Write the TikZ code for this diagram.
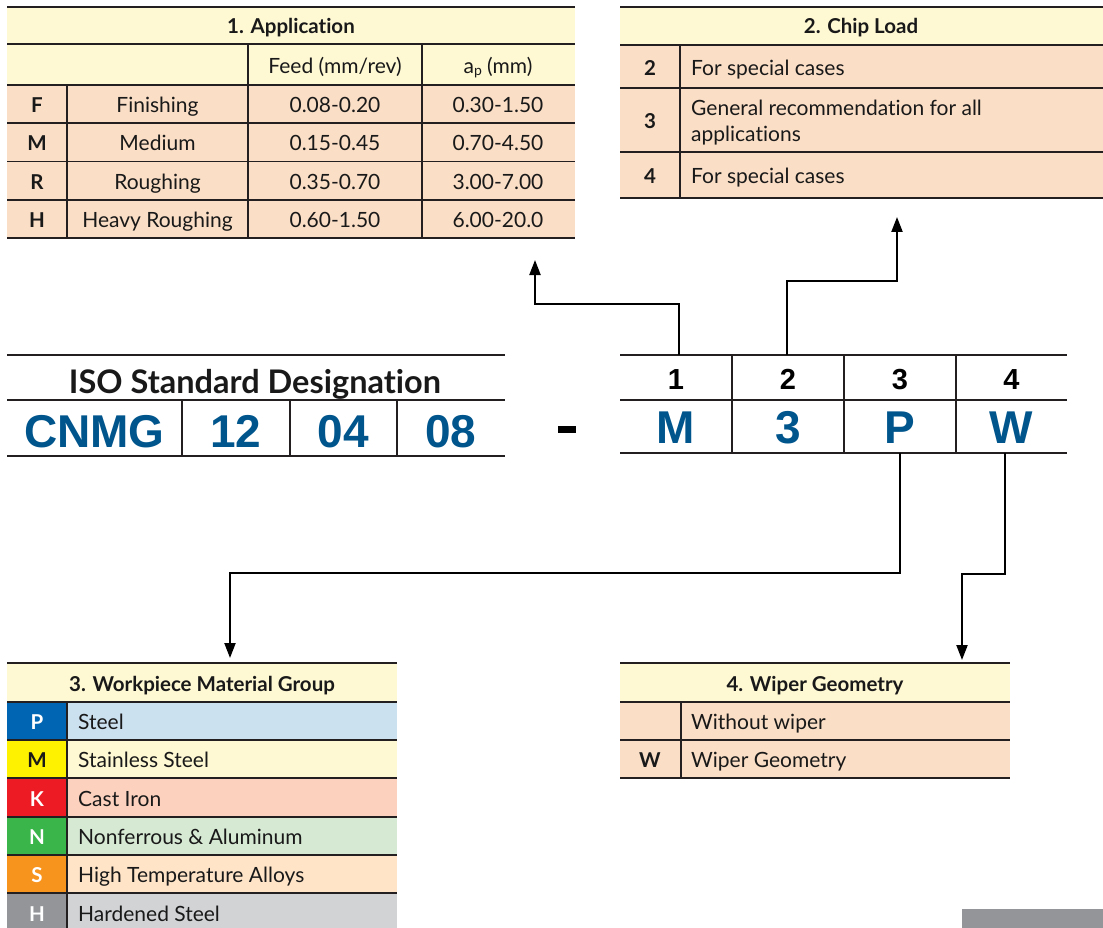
\documentclass[tikz,border=0pt]{standalone}
\usepackage{fontspec}
\setmainfont{Lato}[Ligatures=NoCommon]
\newfontfamily\codefont{Liberation Sans}
\usetikzlibrary{arrows.meta}
\definecolor{cream}{HTML}{FEF8D3}
\definecolor{peach}{HTML}{FADEC6}
\definecolor{codeblue}{HTML}{00558C}
\definecolor{pblue}{HTML}{0066B3}
\definecolor{prow}{HTML}{CCE1F0}
\definecolor{myel}{HTML}{FFF200}
\definecolor{mrow}{HTML}{FEF8D3}
\definecolor{kred}{HTML}{ED1C24}
\definecolor{krow}{HTML}{FCD2BE}
\definecolor{ngreen}{HTML}{39B54A}
\definecolor{nrow}{HTML}{D6E9D3}
\definecolor{sorange}{HTML}{F7941D}
\definecolor{srow}{HTML}{FFE4C8}
\definecolor{hgrey}{HTML}{939598}
\definecolor{hrow}{HTML}{D1D3D4}
\definecolor{linec}{HTML}{231F20}
\tikzset{
  grid/.style={draw=linec, line width=1.5pt},
  heavy/.style={draw=linec, line width=2.6pt},
  conn/.style={draw=black, line width=2.2pt, -{Triangle[length=15pt,width=11pt]}},
  txt/.style={font=\fontsize{21}{25}\selectfont, inner sep=0pt, anchor=base, text=black!90},
  ltxt/.style={txt, anchor=base west},
  btxt/.style={font=\bfseries\fontsize{20.5}{24}\selectfont, inner sep=0pt, anchor=base, text=black!90},
  wtxt/.style={btxt, text=white},
  isotitle/.style={font=\bfseries\fontsize{32.5}{38}\selectfont, inner sep=0pt, anchor=base, text=black!90},
  code/.style={font=\codefont\bfseries\fontsize{46}{50}\selectfont, inner sep=0pt, anchor=base, text=codeblue},
  num/.style={font=\codefont\bfseries\fontsize{29}{34}\selectfont, inner sep=0pt, anchor=base, text=black},
  cellbox/.style={inner sep=0pt, minimum width=112pt, minimum height=45pt},
}
\begin{document}
\begin{tikzpicture}[x=1pt,y=-1pt]
\useasboundingbox (0,0) rectangle (1103,928);

% ---------- Table 1: Application ----------
\fill[cream] (7,7) rectangle (575,85);
\fill[peach] (7,85) rectangle (575,238);
\foreach \yy in {7,44,85,123,161.5,200,238} \draw[grid] (7,\yy) -- (575,\yy);
\draw[grid] (248,44) -- (248,238);
\draw[grid] (422,44) -- (422,238);
\draw[grid] (67,85) -- (67,238);
\node[btxt] (t1h) at (291,33.5) {1. Application};
\node[txt] (t1feed) at (335,74) {Feed (mm/rev)};
\node[txt] (t1ap) at (498,74) {a\raisebox{-1.5pt}{\fontsize{14}{14}\selectfont p} (mm)};
\node[btxt] (t1fl) at (37,113) {F};
\node[txt] (t1fn) at (157.5,113) {Finishing};
\node[txt] (t1ff) at (335,113) {0.08-0.20};
\node[txt] (t1fa) at (498,113) {0.30-1.50};
\node[btxt] (t1ml) at (37,151) {M};
\node[txt] (t1mn) at (157.5,151) {Medium};
\node[txt] (t1mf) at (335,151) {0.15-0.45};
\node[txt] (t1ma) at (498,151) {0.70-4.50};
\node[btxt] (t1rl) at (37,189.5) {R};
\node[txt] (t1rn) at (157.5,189.5) {Roughing};
\node[txt] (t1rf) at (335,189.5) {0.35-0.70};
\node[txt] (t1ra) at (498,189.5) {3.00-7.00};
\node[btxt] (t1hl) at (37,228) {H};
\node[txt] (t1hn) at (157.5,228) {Heavy Roughing};
\node[txt] (t1hf) at (335,228) {0.60-1.50};
\node[txt] (t1ha) at (498,228) {6.00-20.0};
\coordinate (t1in) at (535,260);

% ---------- Table 2: Chip Load ----------
\fill[cream] (620,7) rectangle (1103,45);
\fill[peach] (620,45) rectangle (1103,198);
\foreach \yy in {7,45,88,152,198} \draw[grid] (620,\yy) -- (1103,\yy);
\draw[grid] (680,45) -- (680,198);
\node[btxt] (t2h) at (861,33.5) {2. Chip Load};
\node[btxt] (t2a) at (650,75.5) {2};
\node[ltxt] (t2at) at (691,75.5) {For special cases};
\node[btxt] (t2b) at (650,129) {3};
\node[ltxt] (t2bt1) at (691,116) {General recommendation for all};
\node[ltxt] (t2bt2) at (691,142) {applications};
\node[btxt] (t2c) at (650,184) {4};
\node[ltxt] (t2ct) at (691,184) {For special cases};
\coordinate (t2in) at (897,217);

% ---------- ISO Standard Designation ----------
\draw[heavy] (7,355) -- (505,355);
\draw[heavy] (7,400) -- (505,400);
\draw[heavy] (7,456) -- (505,456);
\foreach \xx in {182,290,397} \draw[heavy] (\xx,400) -- (\xx,456);
\node[isotitle] (isot) at (255,393.5) {ISO Standard Designation};
\node[code] (cnmg) at (94.5,447) {CNMG};
\node[code] (c12) at (236,447) {12};
\node[code] (c04) at (343.5,447) {04};
\node[code] (c08) at (451,447) {08};
\fill[black] (558,426) rectangle (576,433);

% ---------- Right code box ----------
\draw[heavy] (620,355) -- (1067,355);
\draw[heavy] (620,400) -- (1067,400);
\draw[heavy] (620,453) -- (1067,453);
\foreach \xx in {732,844,956} \draw[heavy] (\xx,355) -- (\xx,453);
\node[cellbox] (c1) at (679,377.5) {};
\node[cellbox] (c2) at (787,377.5) {};
\node[cellbox, minimum height=53pt] (cP) at (900,426.5) {};
\node[cellbox, minimum height=53pt] (cW) at (1005,426.5) {};
\node[num] (n1) at (676,389) {1};
\node[num] (n2) at (788,389) {2};
\node[num] (n3) at (900,389) {3};
\node[num] (n4) at (1011.5,389) {4};
\node[code] (lM) at (676,443) {M};
\node[code] (l3) at (788,443) {3};
\node[code] (lP) at (900,443) {P};
\node[code] (lW) at (1011.5,443) {W};

% ---------- Table 3: Workpiece Material Group ----------
\fill[cream] (7,663) rectangle (397,702);
\fill[pblue] (7,702) rectangle (67,740);   \fill[prow] (67,702) rectangle (397,740);
\fill[myel] (7,740) rectangle (67,778);    \fill[mrow] (67,740) rectangle (397,778);
\fill[kred] (7,778) rectangle (67,817);    \fill[krow] (67,778) rectangle (397,817);
\fill[ngreen] (7,817) rectangle (67,855);  \fill[nrow] (67,817) rectangle (397,855);
\fill[sorange] (7,855) rectangle (67,893); \fill[srow] (67,855) rectangle (397,893);
\fill[hgrey] (7,893) rectangle (67,928);   \fill[hrow] (67,893) rectangle (397,928);
\foreach \yy in {663,702,740,778,817,855,893} \draw[grid] (7,\yy) -- (397,\yy);
\draw[grid] (67,702) -- (67,928);
\node[btxt] (t3h) at (202,691) {3. Workpiece Material Group};
\node[wtxt] (t3p) at (37,729.5) {P};
\node[ltxt] (t3pt) at (78,729.5) {Steel};
\node[btxt] (t3m) at (37,767.5) {M};
\node[ltxt] (t3mt) at (78,767.5) {Stainless Steel};
\node[wtxt] (t3k) at (37,806) {K};
\node[ltxt] (t3kt) at (78,806) {Cast Iron};
\node[wtxt] (t3n) at (37,844.5) {N};
\node[ltxt] (t3nt) at (78,844.5) {Nonferrous \& Aluminum};
\node[wtxt] (t3s) at (37,882.5) {S};
\node[ltxt] (t3st) at (78,882.5) {High Temperature Alloys};
\node[wtxt] (t3hh) at (37,921) {H};
\node[ltxt] (t3ht) at (78,921) {Hardened Steel};
\coordinate (t3in) at (230,658);

% ---------- Table 4: Wiper Geometry ----------
\fill[cream] (620,663) rectangle (1010,702);
\fill[peach] (620,702) rectangle (1010,778);
\foreach \yy in {663,702,740,778} \draw[grid] (620,\yy) -- (1010,\yy);
\draw[grid] (681,702) -- (681,778);
\node[btxt] (t4h) at (815,691) {4. Wiper Geometry};
\node[ltxt] (t4at) at (691,729.5) {Without wiper};
\node[btxt] (t4b) at (650,767.5) {W};
\node[ltxt] (t4bt) at (691,767.5) {Wiper Geometry};
\coordinate (t4in) at (962,660);

% ---------- Connectors ----------
\draw[conn] (c1.north) -- ++(0,-51) -| (t1in);
\draw[conn] (c2.north) -- ++(0,-74) -| (t2in);
\draw[conn] (cP.south) -- ++(0,120) -| (t3in);
\draw[conn] (cW.south) -- ++(0,121) -| (t4in);

% grey bar
\fill[hgrey] (962,909) rectangle (1103,928);
\end{tikzpicture}
\end{document}
